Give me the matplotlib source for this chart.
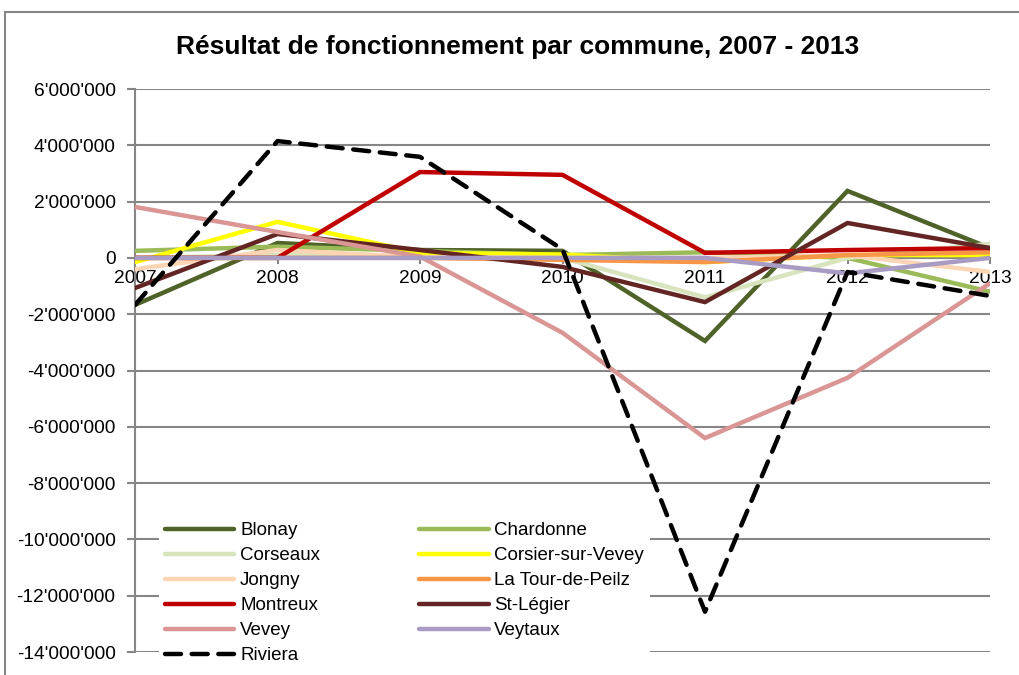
import matplotlib
matplotlib.use("Agg")
import matplotlib.pyplot as plt
from matplotlib.ticker import FuncFormatter, MultipleLocator
from matplotlib.patches import Rectangle

plt.rcParams['font.family'] = ['Liberation Sans', 'DejaVu Sans']

# Data (CHF)
years = [2007, 2008, 2009, 2010, 2011, 2012, 2013]
blonay = [-1670000, 530000, 280000, 250000, -2950000, 2380000, 350000]
chardonne = [250000, 400000, 250000, 100000, 200000, 0, -1200000]
corseaux = [0, 100000, 50000, 0, -1400000, 0, 500000]
corsier = [-150000, 1280000, 180000, 120000, -150000, 100000, 100000]
jongny = [-400000, 280000, 30000, 0, 0, 100000, -500000]
la_tour = [0, 0, 0, -70000, -150000, 100000, 200000]
montreux = [0, 0, 3050000, 2950000, 180000, 280000, 350000]
st_legier = [-1070000, 850000, 280000, -320000, -1570000, 1240000, 350000]
vevey = [1810000, 920000, 50000, -2660000, -6400000, -4260000, -900000]
veytaux = [0, 0, 0, 0, 0, -550000, 0]
riviera = [-1670000, 4150000, 3590000, 300000, -12570000, -500000, -1350000]

names = ['Blonay', 'Chardonne', 'Corseaux', 'Corsier-sur-Vevey', 'Jongny',
         'La Tour-de-Peilz', 'Montreux', 'St-Légier', 'Vevey', 'Veytaux']
series = [blonay, chardonne, corseaux, corsier, jongny,
          la_tour, montreux, st_legier, vevey, veytaux]
colors = ['#4F6228', '#9BBB59', '#D7E4BD', '#FFFF00', '#FCD5B5',
          '#F79646', '#C00000', '#632523', '#D99694', '#A99CC4']

W, H = 1020, 675
fig = plt.figure(figsize=(W / 100, H / 100), dpi=100)
ax = fig.add_axes([135 / W, 1 - 652 / H, (990 - 135) / W, (652 - 89) / H])

# chart border
fig.patches.append(Rectangle((5 / W, -0.02), 1.05, 1 - 12 / H + 0.02,
                             transform=fig.transFigure, fill=False,
                             edgecolor='#868686', linewidth=1.5))

handles = {}
for name, vals, c in zip(names, series, colors):
    h, = ax.plot(years, vals, color=c, linewidth=3.2, solid_capstyle='round',
                 solid_joinstyle='miter', zorder=3)
    handles[name] = h
h, = ax.plot(years, riviera, color='black', linewidth=3.2, linestyle=(0, (3.6, 2.4)),
             dash_capstyle='round', zorder=4)
handles['Riviera'] = h

ax.set_xlim(2007, 2013)
ax.set_ylim(-14000000, 6000000)
ax.yaxis.set_major_locator(MultipleLocator(2000000))
ax.yaxis.set_major_formatter(FuncFormatter(lambda v, p: f"{int(round(v)):,}".replace(",", "'")))
ax.set_xticks(years)
ax.grid(axis='y', color='#868686', linewidth=1.5, zorder=0)
ax.set_axisbelow(True)

for s in ['top', 'right']:
    ax.spines[s].set_visible(False)
ax.spines['left'].set_color('#868686')
ax.spines['left'].set_linewidth(1.5)
ax.spines['bottom'].set_position(('data', 0))
ax.spines['bottom'].set_color('#868686')
ax.spines['bottom'].set_linewidth(1.5)
ax.tick_params(axis='y', colors='#868686', labelcolor='black', labelsize=13.8,
               length=6, width=1.5, pad=8)
ax.tick_params(axis='x', colors='#868686', labelcolor='black', labelsize=13.8,
               length=4, width=1.5, pad=5)

fig.text(518 / W, 1 - 47 / H, 'Résultat de fonctionnement par commune, 2007 - 2013',
         fontsize=19, fontweight='bold', ha='center', va='center')

# legend: two columns, row-wise order as in the reference
order = ['Blonay', 'Corseaux', 'Jongny', 'Montreux', 'Vevey', 'Riviera',
         'Chardonne', 'Corsier-sur-Vevey', 'La Tour-de-Peilz', 'St-Légier', 'Veytaux']
leg = ax.legend([handles[n] for n in order], order, ncol=2, loc='upper left',
                bbox_to_anchor=(150 / W, 1 - 507 / H), bbox_transform=fig.transFigure,
                fontsize=13.5, frameon=True, facecolor='white', edgecolor='none',
                framealpha=1, fancybox=False, handlelength=3.7, handletextpad=0.3,
                labelspacing=0.42, columnspacing=5.3, borderpad=0.3)

fig.savefig('out.png', dpi=100, facecolor='white')
